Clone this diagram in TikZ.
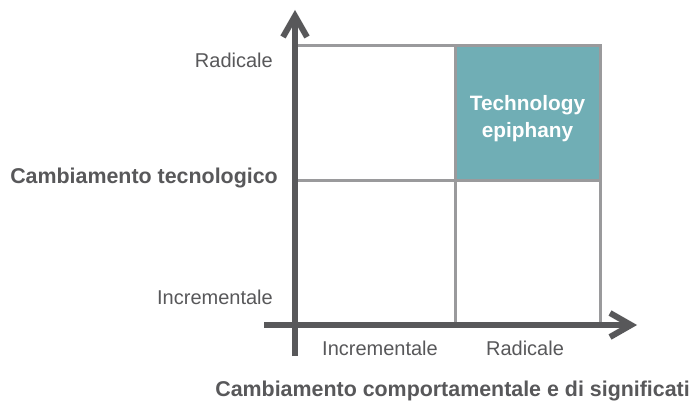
\documentclass[tikz,border=0pt]{standalone}
\usepackage{fontspec}
\setmainfont{Liberation Sans}
\usetikzlibrary{calc}
\definecolor{axisgray}{HTML}{58585A}
\definecolor{gridgray}{HTML}{9A9A9C}
\definecolor{teal}{HTML}{70AEB5}
\begin{document}
\begin{tikzpicture}[x=1pt,y=-1pt,
  axis/.style={draw=axisgray,line width=6pt,line join=miter},
  gridline/.style={draw=gridgray,line width=3pt},
  lbl/.style={text=axisgray,font=\fontsize{20}{24}\selectfont,inner sep=0pt},
  blbl/.style={text=axisgray,font=\fontsize{21.4}{25}\selectfont\bfseries,inner sep=0pt},
  hot/.style={text=white,align=center,
    font=\fontsize{20.8}{27}\selectfont\bfseries,inner sep=0pt}]
\useasboundingbox[fill=white] (0,0) rectangle (692,407);
% grid
\fill[teal] (455,45) rectangle (600,180);
\node[hot] (epi) at (527.5,119) {Technology\\epiphany};
\draw[gridline] (295,45) rectangle (600,325);
\draw[gridline] (455,45) -- (455,325);
\draw[gridline] (295,180) -- (600,180);
% axes
\coordinate (ybot) at (295,356);
\coordinate (ytip) at (295,16);
\coordinate (xleft) at (264,325);
\coordinate (xtip) at (631,325);
\draw[axis] (ybot) -- (ytip);
\draw[axis] ($(ytip)+(-12,21)$) -- (ytip) -- ($(ytip)+(12,21)$);
\draw[axis] (xleft) -- (xtip);
\draw[axis] ($(xtip)+(-21,-12)$) -- (xtip) -- ($(xtip)+(-21,12)$);
% labels
\node[lbl,anchor=east] (yrad) at (273,60) {Radicale};
\node[lbl,anchor=east] (yinc) at (273,297) {Incrementale};
\node[blbl,anchor=east] (ytitle) at (278,178) {Cambiamento tecnologico};
\node[lbl] (xinc) at (380,348) {Incrementale};
\node[lbl] (xrad) at (525,348) {Radicale};
\node[blbl,anchor=east] (xtitle) at (690,391) {Cambiamento comportamentale e di significati};
\end{tikzpicture}
\end{document}
